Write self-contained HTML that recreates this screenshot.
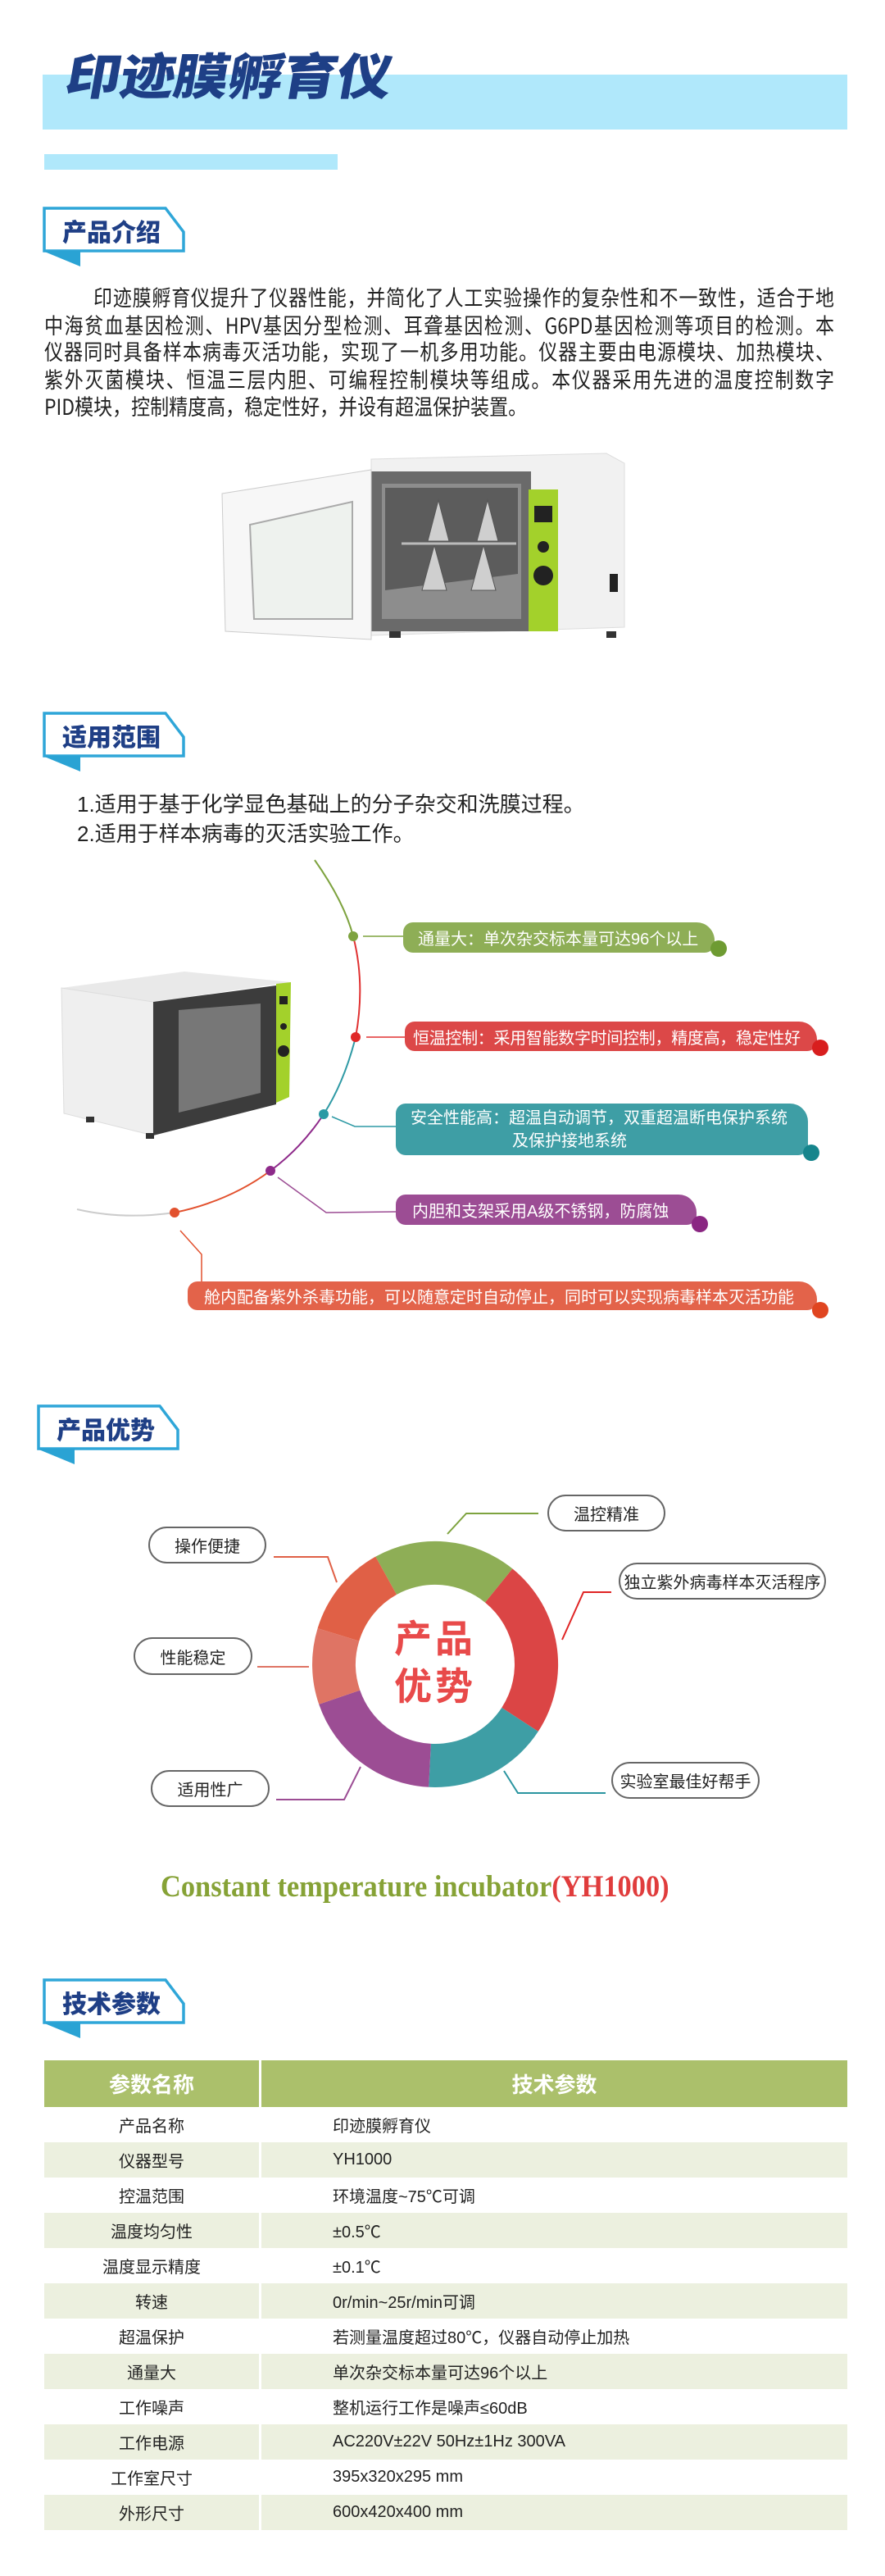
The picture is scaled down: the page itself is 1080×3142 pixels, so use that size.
<!DOCTYPE html>
<html><head><meta charset="utf-8">
<style>
html,body{margin:0;padding:0;background:#fff;}
body{width:1080px;height:3142px;position:relative;overflow:hidden;font-family:"Liberation Sans","Noto Sans CJK SC",sans-serif;}
.abs{position:absolute;}
.pl{position:absolute;left:54px;width:964px;font-size:23px;line-height:30px;color:#222;text-align:justify;text-align-last:justify;white-space:nowrap;font-family:"Noto Sans CJK SC",sans-serif;transform:scaleY(1.15);transform-origin:left top;}
.list{left:94px;font-size:26px;color:#222;}
.pill{position:absolute;color:#fff;font-size:20px;border-radius:12px 22px 12px 12px;box-sizing:border-box;padding-left:18px;display:flex;align-items:center;white-space:nowrap;overflow:hidden;}
.lab{position:absolute;border:2px solid #666;border-radius:24px;background:#fff;font-size:20px;color:#222;display:flex;align-items:center;justify-content:center;box-sizing:border-box;white-space:nowrap;}
table{position:absolute;left:54px;top:2513px;width:980px;border-collapse:collapse;font-size:20px;color:#222;}
td{height:43px;padding:0;}
td.c1{width:262px;text-align:center;border-right:3px solid #fff;}
td.c2{padding-left:87px;}
tr.h td{height:57px;background:#abc06b;color:#fff;font-size:26px;font-weight:bold;text-align:center;padding-left:0;}
tr.a td{background:#ecf0df;}
</style></head><body>

<div class="abs" style="left:52px;top:91px;width:982px;height:67px;background:#b0e8fb;"></div>
<div class="abs" style="left:54px;top:188px;width:358px;height:19px;background:#b0e8fb;"></div>
<div class="abs" style="left:88px;top:54px;font-size:60px;font-weight:900;color:#1e3f86;font-family:'Noto Sans CJK SC',sans-serif;transform:skewX(-10deg) scaleX(1.12);transform-origin:left top;letter-spacing:-1px;line-height:72px;">印迹膜孵育仪</div>

<svg class="abs" style="left:52px;top:252px" width="180" height="80"><polygon points="2,2 150,2 172,31 172,54 2,54" fill="#fff" stroke="#2fa6d8" stroke-width="3.5"/><polygon points="0,54 46,54 46,73" fill="#2aa3d4"/><text x="24" y="42" font-size="30" font-weight="900" fill="#1f3f86" font-family="Noto Sans CJK SC,sans-serif">产品介绍</text></svg>

<div class="pl" style="top:344px;left:114px;width:904px;">印迹膜孵育仪提升了仪器性能，并简化了人工实验操作的复杂性和不一致性，适合于地</div>
<div class="pl" style="top:378px;">中海贫血基因检测、HPV基因分型检测、耳聋基因检测、G6PD基因检测等项目的检测。本</div>
<div class="pl" style="top:410px;">仪器同时具备样本病毒灭活功能，实现了一机多用功能。仪器主要由电源模块、加热模块、</div>
<div class="pl" style="top:444px;">紫外灭菌模块、恒温三层内胆、可编程控制模块等组成。本仪器采用先进的温度控制数字</div>
<div class="pl" style="top:477px;text-align-last:left;">PID模块，控制精度高，稳定性好，并设有超温保护装置。</div>

<svg class="abs" style="left:250px;top:540px" width="540" height="250" viewBox="250 540 540 250">
<polygon points="453,560 740,553 762,565 762,765 453,775" fill="#f1f1f1" stroke="#ddd"/>
<polygon points="453,575 648,575 648,770 453,770" fill="#6a6a6a"/>
<polygon points="466,590 636,590 636,755 466,755" fill="#8d8d8d"/>
<polygon points="470,595 632,595 632,700 470,720" fill="#5c5c5c"/>
<g fill="#cfcfcf" stroke="#555">
<polygon points="535,610 548,660 522,660"/><polygon points="595,610 608,660 582,660"/>
<polygon points="530,665 545,720 515,720"/><polygon points="590,665 605,720 575,720"/>
</g>
<line x1="490" y1="663" x2="630" y2="663" stroke="#bbb" stroke-width="3"/>
<polygon points="645,597 681,597 681,770 645,770" fill="#a3d12b"/>
<rect x="652" y="617" width="22" height="20" fill="#222"/>
<circle cx="663" cy="667" r="7" fill="#222"/>
<circle cx="663" cy="702" r="12" fill="#222"/>
<rect x="744" y="700" width="10" height="22" fill="#222"/>
<polygon points="271,602 453,573 453,780 275,770" fill="#f7f7f7" stroke="#ccc"/>
<polygon points="305,640 430,612 430,755 310,755" fill="#eef2ee" stroke="#aaa" stroke-width="2"/>
<rect x="475" y="770" width="14" height="8" fill="#333"/><rect x="740" y="770" width="12" height="8" fill="#333"/>
</svg>

<svg class="abs" style="left:52px;top:868px" width="180" height="80"><polygon points="2,2 150,2 172,31 172,54 2,54" fill="#fff" stroke="#2fa6d8" stroke-width="3.5"/><polygon points="0,54 46,54 46,73" fill="#2aa3d4"/><text x="24" y="42" font-size="30" font-weight="900" fill="#1f3f86" font-family="Noto Sans CJK SC,sans-serif">适用范围</text></svg>

<div class="abs list" style="top:961px;">1.适用于基于化学显色基础上的分子杂交和洗膜过程。</div>
<div class="abs list" style="top:997px;">2.适用于样本病毒的灭活实验工作。</div>

<svg class="abs" style="left:0;top:1040px" width="1080" height="580" viewBox="0 1040 1080 580">
<path d="M384,1049 Q420,1100 431,1142" stroke="#7ea33f" stroke-width="2" fill="none"/>
<path d="M431,1142 Q446,1200 434,1265" stroke="#e03232" stroke-width="2" fill="none"/>
<path d="M434,1265 Q420,1320 395,1359" stroke="#2f9aa5" stroke-width="2" fill="none"/>
<path d="M395,1359 Q368,1400 330,1428" stroke="#8e2a8a" stroke-width="2" fill="none"/>
<path d="M330,1428 Q280,1465 213,1479" stroke="#e2512e" stroke-width="2" fill="none"/>
<path d="M94,1475 Q150,1488 213,1479" stroke="#ccc" stroke-width="2" fill="none"/>
<circle cx="431" cy="1142" r="6" fill="#7ea33f"/>
<circle cx="434" cy="1265" r="6" fill="#e02828"/>
<circle cx="395" cy="1359" r="6" fill="#2b9aa4"/>
<circle cx="330" cy="1428" r="6" fill="#8e2a8a"/>
<circle cx="213" cy="1479" r="6" fill="#e2512e"/>
<polyline points="443,1142 492,1142" stroke="#7ea33f" stroke-width="1.5" fill="none"/>
<polyline points="447,1265 494,1265" stroke="#e03232" stroke-width="1.5" fill="none"/>
<polyline points="405,1362 433,1374 483,1374" stroke="#2f9aa5" stroke-width="1.5" fill="none"/>
<polyline points="339,1436 398,1479 483,1478" stroke="#9c4d94" stroke-width="1.5" fill="none"/>
<polyline points="220,1501 246,1530 246,1575" stroke="#e2512e" stroke-width="1.5" fill="none"/>
<polygon points="75,1205 225,1185 355,1198 187,1222" fill="#e9e9e9"/>
<polygon points="75,1205 187,1222 187,1385 78,1358" fill="#efefef" stroke="#ddd"/>
<polygon points="187,1222 337,1202 337,1347 187,1385" fill="#3c3c3c"/>
<polygon points="218,1232 318,1224 318,1333 218,1357" fill="#777"/>
<polygon points="337,1200 355,1198 353,1338 337,1345" fill="#a3d12b"/>
<rect x="341" y="1215" width="10" height="10" fill="#222"/>
<circle cx="346" cy="1252" r="4" fill="#222"/><circle cx="346" cy="1282" r="7" fill="#222"/>
<rect x="105" y="1362" width="10" height="7" fill="#333"/><rect x="178" y="1382" width="10" height="7" fill="#333"/>
</svg>
<div class="pill" style="left:492px;top:1125px;width:380px;height:37px;background:#8eae56;">通量大：单次杂交标本量可达96个以上</div>
<div class="pill" style="left:494px;top:1246px;width:503px;height:36px;background:#dc4848;padding-left:10px;letter-spacing:-0.3px;">恒温控制：采用智能数字时间控制，精度高，稳定性好</div>
<div class="pill" style="left:483px;top:1346px;width:503px;height:63px;background:#3e9ea5;padding-left:18px;white-space:normal;line-height:28px;display:block;padding-top:4px;">安全性能高：超温自动调节，双重超温断电保护系统<br><span style="padding-left:124px">及保护接地系统</span></div>
<div class="pill" style="left:483px;top:1457px;width:367px;height:37px;background:#9c4d94;padding-left:20px;">内胆和支架采用A级不锈钢，防腐蚀</div>
<div class="pill" style="left:229px;top:1563px;width:768px;height:35px;background:#e3634a;padding-left:20px;">舱内配备紫外杀毒功能，可以随意定时自动停止，同时可以实现病毒样本灭活功能</div>
<svg class="abs" style="left:0;top:1140px" width="1080" height="470" viewBox="0 1140 1080 470">
<circle cx="877" cy="1157" r="10" fill="#6e9b32"/>
<circle cx="1001" cy="1278" r="10" fill="#d81e1e"/>
<circle cx="990" cy="1406" r="10" fill="#16858c"/>
<circle cx="854" cy="1493" r="10" fill="#8a2682"/>
<circle cx="1001" cy="1598" r="10" fill="#e04520"/>
</svg>

<svg class="abs" style="left:45px;top:1713px" width="180" height="80"><polygon points="2,2 150,2 172,31 172,54 2,54" fill="#fff" stroke="#2fa6d8" stroke-width="3.5"/><polygon points="0,54 46,54 46,73" fill="#2aa3d4"/><text x="24" y="42" font-size="30" font-weight="900" fill="#1f3f86" font-family="Noto Sans CJK SC,sans-serif">产品优势</text></svg>

<svg class="abs" style="left:0;top:1800px" width="1080" height="450" viewBox="0 1800 1080 450">
<path d="M458.3,1898.6 A150,150 0 0 1 625.4,1913.4 L592.0,1954.6 A97,97 0 0 0 484.0,1945.0 Z" fill="#8eae56"/>
<path d="M625.4,1913.4 A150,150 0 0 1 656.8,2111.9 L612.3,2082.9 A97,97 0 0 0 592.0,1954.6 Z" fill="#db4545"/>
<path d="M656.8,2111.9 A150,150 0 0 1 523.2,2179.8 L525.9,2126.9 A97,97 0 0 0 612.3,2082.9 Z" fill="#3e9ea5"/>
<path d="M523.2,2179.8 A150,150 0 0 1 389.2,2078.8 L439.3,2061.6 A97,97 0 0 0 525.9,2126.9 Z" fill="#9c4d94"/>
<path d="M389.2,2078.8 A150,150 0 0 1 387.6,1986.1 L438.3,2001.6 A97,97 0 0 0 439.3,2061.6 Z" fill="#df7464"/>
<path d="M387.6,1986.1 A150,150 0 0 1 458.3,1898.6 L484.0,1945.0 A97,97 0 0 0 438.3,2001.6 Z" fill="#e06046"/>
<text x="531" y="2015" text-anchor="middle" font-size="46" font-weight="bold" fill="#e84a4a" font-family="Noto Sans CJK SC,sans-serif" letter-spacing="4">产品</text>
<text x="531" y="2073" text-anchor="middle" font-size="46" font-weight="bold" fill="#e84a4a" font-family="Noto Sans CJK SC,sans-serif" letter-spacing="4">优势</text>
<polyline points="546,1871 569,1846 657,1846" stroke="#7ea33f" stroke-width="2" fill="none"/>
<polyline points="334,1899 400,1899 411,1930" stroke="#e06046" stroke-width="2" fill="none"/>
<polyline points="314,2033 377,2033" stroke="#df7464" stroke-width="2" fill="none"/>
<polyline points="686,2000 712,1942 746,1942" stroke="#e02424" stroke-width="2" fill="none"/>
<polyline points="615,2160 632,2187 739,2187" stroke="#2a95a0" stroke-width="2" fill="none"/>
<polyline points="440,2155 420,2195 337,2195" stroke="#9c4d94" stroke-width="2" fill="none"/>
</svg>
<div class="lab" style="left:668px;top:1823px;width:144px;height:45px;">温控精准</div>
<div class="lab" style="left:181px;top:1862px;width:144px;height:45px;">操作便捷</div>
<div class="lab" style="left:755px;top:1906px;width:253px;height:45px;">独立紫外病毒样本灭活程序</div>
<div class="lab" style="left:163px;top:1997px;width:145px;height:46px;">性能稳定</div>
<div class="lab" style="left:184px;top:2159px;width:145px;height:45px;">适用性广</div>
<div class="lab" style="left:746px;top:2149px;width:181px;height:45px;">实验室最佳好帮手</div>

<div class="abs" style="left:196px;top:2280px;width:690px;font-family:'Liberation Serif',serif;font-weight:bold;font-size:37px;color:#86a236;white-space:nowrap;transform:scaleX(0.93);transform-origin:left top;">Constant temperature incubator<span style="color:#e03c3c">(YH1000)</span></div>

<svg class="abs" style="left:52px;top:2413px" width="180" height="80"><polygon points="2,2 150,2 172,31 172,54 2,54" fill="#fff" stroke="#2fa6d8" stroke-width="3.5"/><polygon points="0,54 46,54 46,73" fill="#2aa3d4"/><text x="24" y="42" font-size="30" font-weight="900" fill="#1f3f86" font-family="Noto Sans CJK SC,sans-serif">技术参数</text></svg>

<table>
<tr class="h"><td class="c1">参数名称</td><td>技术参数</td></tr>
<tr><td class="c1">产品名称</td><td class="c2">印迹膜孵育仪</td></tr>
<tr class="a"><td class="c1">仪器型号</td><td class="c2">YH1000</td></tr>
<tr><td class="c1">控温范围</td><td class="c2">环境温度~75℃可调</td></tr>
<tr class="a"><td class="c1">温度均匀性</td><td class="c2">±0.5℃</td></tr>
<tr><td class="c1">温度显示精度</td><td class="c2">±0.1℃</td></tr>
<tr class="a"><td class="c1">转速</td><td class="c2">0r/min~25r/min可调</td></tr>
<tr><td class="c1">超温保护</td><td class="c2">若测量温度超过80℃，仪器自动停止加热</td></tr>
<tr class="a"><td class="c1">通量大</td><td class="c2">单次杂交标本量可达96个以上</td></tr>
<tr><td class="c1">工作噪声</td><td class="c2">整机运行工作是噪声≤60dB</td></tr>
<tr class="a"><td class="c1">工作电源</td><td class="c2">AC220V±22V 50Hz±1Hz 300VA</td></tr>
<tr><td class="c1">工作室尺寸</td><td class="c2">395x320x295 mm</td></tr>
<tr class="a"><td class="c1">外形尺寸</td><td class="c2">600x420x400 mm</td></tr>
</table>
</body></html>
